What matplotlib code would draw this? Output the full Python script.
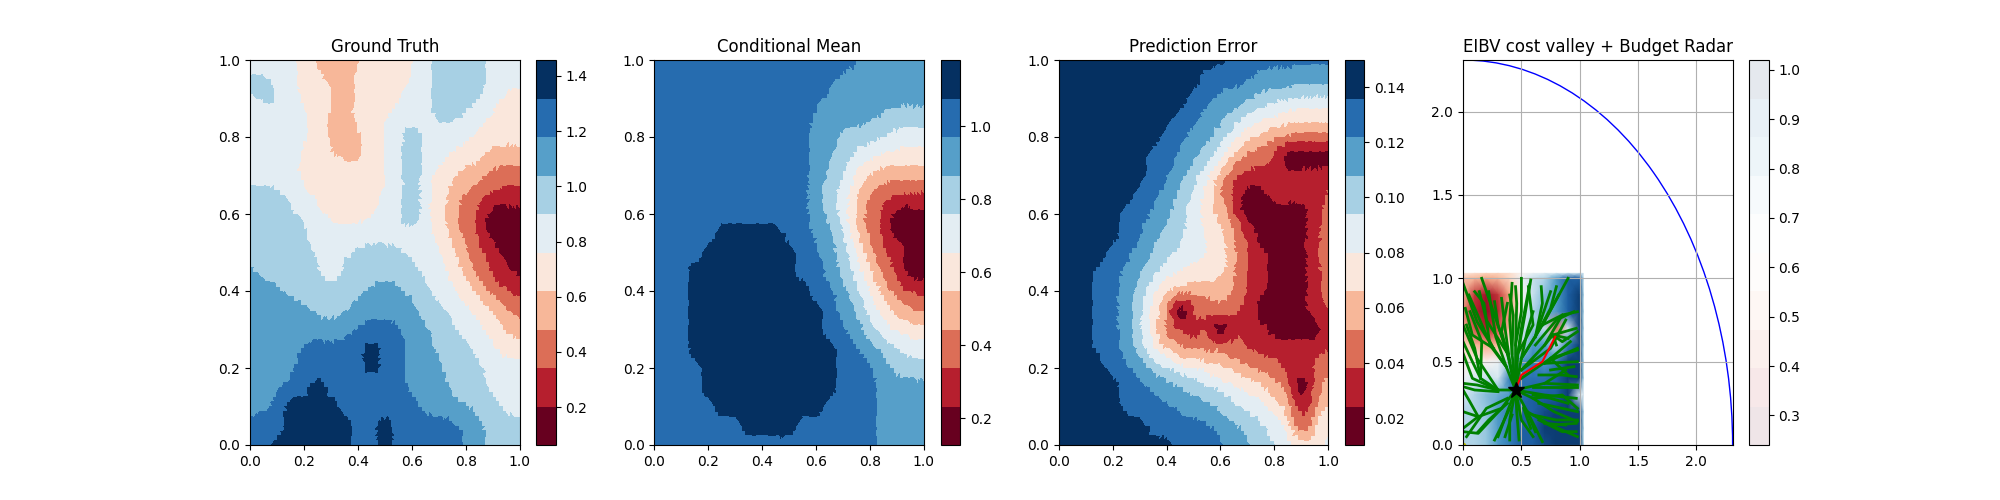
import numpy as np
import matplotlib
matplotlib.use("Agg")
import matplotlib.pyplot as plt
import matplotlib.tri as mtri
from matplotlib.cm import ScalarMappable
from matplotlib.colors import BoundaryNorm, Normalize
from matplotlib.patches import Circle

grid_axis = [0.0, 0.05, 0.1, 0.15, 0.2, 0.25, 0.3, 0.35, 0.4, 0.45, 0.5,
             0.55, 0.6, 0.65, 0.7, 0.75, 0.8, 0.85, 0.9, 0.95, 1.0]
row_axis = grid_axis[::-1]

# Fields: each digit is the colour band of a grid node.
truth_levels = [0.062, 0.202, 0.341, 0.481, 0.620, 0.760, 0.900, 1.039, 1.179, 1.318, 1.458]
truth_bands = [
    "555543333444456666555", "665544334444556666555", "566544434444556666544",
    "555554334455556655444", "555554333445655554444", "555544433455655444333",
    "555544444445654433222", "666554444455654322111", "666655444455654321000",
    "666665555555554321000", "666665556666555432100", "766666566666655432110",
    "777666666777665543211", "777776667777766554432", "777777778888776655433",
    "777788888988776665544", "777788888988777666555", "777889888888777666555",
    "778999988888877766655", "888999998898888887666", "889999998898888877666",
]
mean_levels = [0.127, 0.232, 0.338, 0.443, 0.549, 0.654, 0.760, 0.865, 0.970, 1.076, 1.181]
mean_bands = [
    "888888888888888877777", "888888888888887777777", "888888888888877777777",
    "888888888888777776666", "888888888888776666555", "888888888888776554444",
    "888888888888766433333", "888888888888765422111", "888888888888765321000",
    "888889999988776321000", "888899999998876532100", "888999999998876532100",
    "888999999999887653211", "888999999999987654332", "888999999999988765444",
    "888999999999998876655", "888899999999998887666", "888899999999998887777",
    "888889999999988887777", "888888899998888887777", "888888888888888887777",
]
error_levels = [0.0103, 0.0243, 0.0382, 0.0522, 0.0661, 0.0801, 0.0940, 0.1080, 0.1219, 0.1359, 0.1498]
error_bands = [
    "999999999999988888888", "999999999998888777777", "999999999988777666555",
    "999999999887765544444", "999999998877654332222", "999999988776532210000",
    "999999988765311111111", "999999887654210011112", "999998877654410000012",
    "999998876654431000012", "999988766555431100013", "999887765544431100012",
    "999887653333331100012", "999887642012221000012", "999887642111011100001",
    "999887643222221111111", "999988776554433221123", "999998877766554432013",
    "999998888777665543124", "999999988888776654235", "999999999888877665545",
]

valley_levels = [0.24, 0.318, 0.396, 0.474, 0.552, 0.63, 0.708, 0.786, 0.864, 0.942, 1.02]
valley_x = [0.0, 0.1, 0.2, 0.3, 0.4, 0.5, 0.6, 0.7, 0.8, 0.9, 1.0, 1.03]
valley_y = [1.03, 1.0, 0.9, 0.8, 0.7, 0.6, 0.5, 0.4, 0.3, 0.2, 0.1, 0.0]
valley_cost = [
    [.58, .56, .54, .54, .56, .62, .66, .68, .70, .72, .72, .70],
    [.52, .50, .48, .50, .55, .65, .72, .75, .85, .95, .95, .74],
    [.50, .35, .30, .35, .48, .62, .72, .80, .85, .95, 1.0, .76],
    [.45, .33, .28, .33, .48, .65, .75, .82, .85, .95, 1.0, .76],
    [.50, .38, .32, .38, .52, .68, .78, .72, .42, .70, 1.0, .76],
    [.55, .50, .48, .50, .60, .72, .85, .85, .72, .90, 1.0, .76],
    [.60, .62, .62, .65, .75, .85, .90, .85, .90, 1.0, 1.0, .76],
    [.65, .70, .72, .70, .90, .92, .92, .92, .95, 1.0, 1.0, .76],
    [.70, .75, .80, .82, .85, .92, .95, .95, .95, 1.0, .70, .68],
    [.75, .75, .78, .85, .90, .95, .95, .98, 1.0, 1.0, 1.0, .76],
    [.75, .75, .78, .85, .90, .95, .95, 1.0, 1.0, 1.0, 1.0, .76],
    [.75, .75, .78, .85, .90, .95, .95, .98, 1.0, 1.0, 1.0, .76],
]
start = (0.45, 0.33)
tree_branches = [
    [start, (.38, .55), (.27, .78), (.16, 1.0)],
    [start, (.37, .47), (.26, .58), (.12, .74), (.0, .97)],
    [(.26, .58), (.08, .66), (.02, .82)],
    [start, (.30, .33), (.12, .52), (.0, .72)],
    [(.30, .33), (.15, .40), (.08, .50), (.0, .62)],
    [(.30, .33), (.08, .40), (.0, .55)],
    [(.37, .47), (.23, .60), (.18, .85), (.10, .92)],
    [start, (.40, .50), (.36, .70), (.33, .88)],
    [start, (.42, .55), (.40, .75), (.42, .97)],
    [(.38, .55), (.30, .72), (.27, .86)],
    [start, (.45, .60), (.50, .80), (.50, 1.0)],
    [start, (.47, .55), (.53, .78), (.58, .99)],
    [(.47, .55), (.60, .72), (.56, .95)],
    [start, (.50, .52), (.68, .72), (.90, 1.0)],
    [(.68, .72), (.82, .90)],
    [(.50, .52), (.62, .65), (.75, .92)],
    [(.62, .65), (.68, .85), (.67, .95)],
    [(.50, .45), (.70, .60), (.85, .78), (.98, .80)],
    [(.70, .60), (.77, .66), (.97, .70)],
    [(.77, .66), (.90, .64)],
    [(.77, .66), (.80, .60)],
    [(.50, .40), (.75, .52), (.98, .57)],
    [(.75, .52), (.92, .62)],
    [(.70, .49), (.98, .50)],
    [(.75, .52), (.90, .42)],
    [start, (.70, .37), (.98, .36)],
    [(.70, .37), (.88, .45)],
    [start, (.60, .28), (.85, .30), (.98, .22)],
    [(.60, .28), (.78, .20), (.98, .14)],
    [start, (.55, .20), (.75, .12), (.98, .05)],
    [(.75, .12), (.97, .13)],
    [(.55, .20), (.68, .02)],
    [start, (.50, .15), (.60, .05)],
    [start, (.46, .20), (.48, .03)],
    [start, (.38, .20), (.30, .05)],
    [start, (.33, .22), (.13, .07), (.0, .08)],
    [(.33, .22), (.13, .17), (.0, .20)],
    [(.13, .17), (.0, .10)],
    [(.13, .17), (.05, .27), (.0, .33)],
    [start, (.40, .15), (.40, .03)],
    [start, (.70, .30), (.97, .28)],
    [(.38, .55), (.20, .75), (.14, .92)],
    [(.26, .58), (.20, .66), (.05, .90)],
    [(.15, .40), (.16, .62), (.06, .80)],
    [(.15, .40), (.10, .58), (.03, .72)],
    [(.37, .47), (.28, .65), (.22, .92)],
    [(.40, .50), (.33, .68), (.38, .85)],
    [(.42, .55), (.43, .78), (.40, .90)],
    [(.45, .60), (.46, .85), (.45, .95)],
    [(.47, .55), (.50, .70), (.57, .96)],
    [(.50, .52), (.55, .68), (.60, .80)],
    [(.62, .65), (.75, .82), (.80, .95)],
    [(.68, .72), (.85, .78)],
    [(.62, .60), (.80, .75), (.95, .80)],
    [(.50, .45), (.75, .58), (.88, .75)],
    [(.77, .66), (.85, .62), (.98, .68)],
    [(.70, .49), (.88, .55), (.98, .58)],
    [(.75, .45), (.95, .47)],
    [(.65, .42), (.85, .42), (.97, .41)],
    [(.60, .35), (.80, .35), (.98, .35)],
    [(.60, .30), (.75, .28), (.90, .25)],
    [(.65, .25), (.85, .22), (.98, .20)],
    [(.60, .18), (.80, .15), (.98, .15)],
    [(.65, .15), (.85, .08), (.97, .08)],
    [(.70, .13), (.88, .12)],
    [(.55, .20), (.62, .08)],
    [(.52, .22), (.58, .10)],
    [(.38, .28), (.20, .22), (.10, .12), (.03, .05)],
    [(.38, .25), (.22, .15), (.13, .08)],
    [(.40, .22), (.32, .10), (.27, .03)],
    [(.42, .18), (.36, .05)],
    [(.30, .32), (.10, .33), (.0, .35)],
    [(.30, .33), (.12, .36), (.0, .37)],
]
path_x = [0.45, 0.50, 0.68, 0.79]
path_y = [0.33, 0.42, 0.50, 0.65]
radar_radius = 2.31
radar_limit = 2.31


def field(rows, levels):
    codes = np.array([[int(c) for c in r] for r in rows])
    levels = np.array(levels)
    raw = ((levels[:-1] + levels[1:]) / 2)[codes]
    step = levels[1] - levels[0]
    # Peaks sit just inside the outer bands, so small islands stay small.
    raw = np.where(codes == 9, levels[9] + 0.25 * step, raw)
    raw = np.where(codes == 0, levels[1] - 0.25 * step, raw)
    # Ease the staircase of the band reading, but keep ridges and peaks as read.
    kernel = np.array([.25, .5, .25])
    pad = np.pad(raw, 1, mode="edge")
    smooth = np.apply_along_axis(lambda v: np.convolve(v, kernel, "same"), 0, pad)
    smooth = np.apply_along_axis(lambda v: np.convolve(v, kernel, "same"), 1, smooth)[1:-1, 1:-1]
    keep = (codes == 0) | (codes == 9)
    inner = codes[:, 1:-1]
    keep[:, 1:-1] |= ((inner > codes[:, :-2]) & (inner > codes[:, 2:]))
    keep[:, 1:-1] |= ((inner < codes[:, :-2]) & (inner < codes[:, 2:]))
    return np.where(keep, raw, smooth)


X, Y = np.meshgrid(grid_axis, row_axis)
base_tri = mtri.Triangulation(X.ravel(), Y.ravel())
refiner = mtri.UniformTriRefiner(base_tri)

fig, axes = plt.subplots(1, 4, figsize=(20, 5))
panels = [
    ("Ground Truth", truth_bands, truth_levels, [.2, .4, .6, .8, 1.0, 1.2, 1.4]),
    ("Conditional Mean", mean_bands, mean_levels, [.2, .4, .6, .8, 1.0]),
    ("Prediction Error", error_bands, error_levels, [.02, .04, .06, .08, .10, .12, .14]),
]
for ax, (title, rows, levels, ticks) in zip(axes, panels):
    fine_tri, fine_z = refiner.refine_field(field(rows, levels).ravel(), subdiv=2)
    norm = BoundaryNorm(levels, 256, clip=True)
    pc = ax.tripcolor(fine_tri, fine_z, cmap="RdBu", norm=norm, shading="flat",
                      antialiased=False, edgecolors="none")
    cb = fig.colorbar(pc, ax=ax, ticks=ticks)
    cb.minorticks_off()
    ax.set_title(title)
    ax.set_xlim(0, 1)
    ax.set_ylim(0, 1)
    ax.set_xticks([0, .2, .4, .6, .8, 1.0])
    ax.set_yticks([0, .2, .4, .6, .8, 1.0])

ax = axes[3]
ax.pcolormesh(valley_x, valley_y, valley_cost, cmap="RdBu", shading="gouraud",
              norm=Normalize(valley_levels[0], valley_levels[-1]))
ax.grid(True)
for branch in tree_branches:
    ax.plot([p[0] for p in branch], [p[1] for p in branch], color="g", lw=2)
ax.plot(path_x, path_y, color="r", lw=1.5)
ax.plot([start[0]], [start[1]], marker="*", color="k", ms=12)
ax.plot([0], [0], marker=".", color="y", ms=6)
ax.add_patch(Circle((0, 0), radar_radius, fill=False, edgecolor="b", lw=1))
ax.set_xlim(0, radar_limit)
ax.set_ylim(0, radar_limit)
ax.set_xticks([0, .5, 1, 1.5, 2])
ax.set_yticks([0, .5, 1, 1.5, 2])
ax.set_title("EIBV cost valley + Budget Radar")
sm = ScalarMappable(norm=BoundaryNorm(valley_levels, 256), cmap="RdBu")
cb = fig.colorbar(sm, ax=ax, alpha=0.1, ticks=[.3, .4, .5, .6, .7, .8, .9, 1.0])
cb.minorticks_off()
fig.savefig("out.png", dpi=100)
